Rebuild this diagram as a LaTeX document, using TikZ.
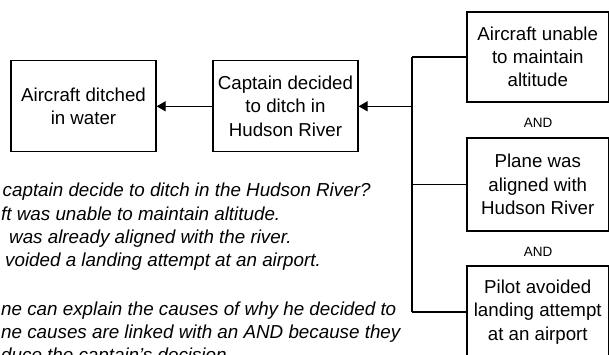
\documentclass[tikz,border=0pt]{standalone}
\usepackage{fontspec}
\setmainfont{Liberation Sans}
\usetikzlibrary{arrows.meta}
\begin{document}
\begin{tikzpicture}[x=1pt,y=-1pt,
  box/.style={draw, line width=1.2pt, minimum width=145pt, minimum height=91pt,
    align=center, inner sep=0pt, font=\fontsize{18.7}{23.3}\selectfont},
  rbox/.style={box, minimum width=141.5pt},
  note/.style={anchor=base west, inner sep=0pt, font=\fontsize{18.8}{23.3}\selectfont\itshape},
  andlbl/.style={font=\fontsize{13.5}{16}\selectfont, inner sep=0pt},
  arr/.style={line width=1.2pt, -{Triangle[length=9pt,width=10pt]}},
  ln/.style={line width=1.2pt}]
\useasboundingbox (0,0) rectangle (609,354);
\clip (0,0) rectangle (609,354);
\node[box] (ditched) at (83.5,106.3) {Aircraft ditched\\in water};
\node[box] (captain) at (285.5,106.3) {Captain decided\\to ditch in\\Hudson River};
\node[rbox, minimum height=90pt] (alt) at (537.75,57) {Aircraft unable\\to maintain\\altitude};
\node[rbox, minimum height=93pt] (plane) at (537.75,184.5) {Plane was\\aligned with\\Hudson River};
\node[rbox, minimum height=92pt] (pilot) at (537.75,312) {Pilot avoided\\landing attempt\\at an airport};
\node[andlbl] (and1) at (538,122.7) {AND};
\node[andlbl] (and2) at (538,252.3) {AND};
\coordinate (tj) at (412,106.3);
\draw[arr] (captain) -- (ditched);
\draw[arr] (tj) -- (tj -| captain.east);
\draw[ln] (tj |- alt.west) -- (tj |- pilot.west);
\draw[ln] (tj |- alt.west) -- (alt.west);
\draw[ln] (tj |- plane.west) -- (plane.west);
\draw[ln] (tj |- pilot.west) -- (pilot.west);
\node[note] (q1) at (2.5,196.7) {captain decide to ditch in the Hudson River?};
\node[note] (q2) at (1,220) {ft was unable to maintain altitude.};
\node[note] (q3) at (9,243.3) {was already aligned with the river.};
\node[note] (q4) at (5,266.6) {voided a landing attempt at an airport.};
\node[note] (q5) at (1,315) {ne can explain the causes of why he decided to};
\node[note] (q6) at (1,338.3) {ne causes are linked with an AND because they};
\node[note] (q7) at (1,361.6) {duce the captain's decision.};
\end{tikzpicture}
\end{document}
